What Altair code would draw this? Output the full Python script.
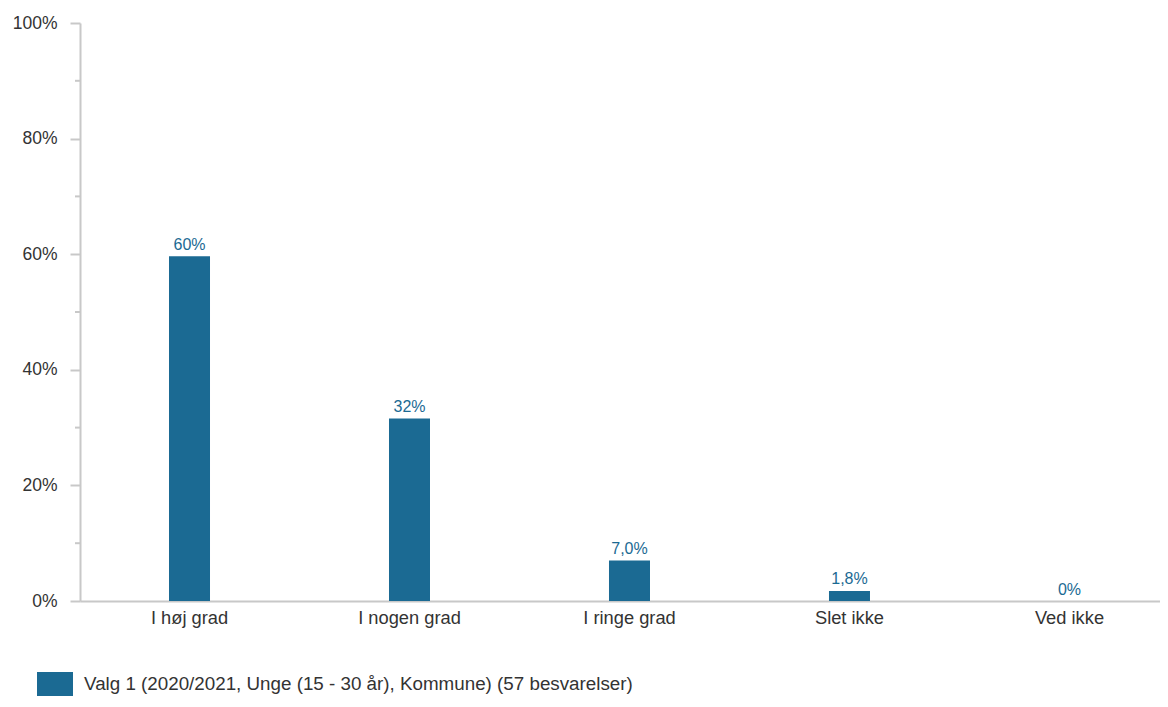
import altair as alt
import pandas as pd

categories = ["I høj grad", "I nogen grad", "I ringe grad", "Slet ikke", "Ved ikke"]
values = [59.65, 31.58, 7.02, 1.75, 0.0]
value_labels = ["60%", "32%", "7,0%", "1,8%", "0%"]
series_name = "Valg 1 (2020/2021, Unge (15 - 30 år), Kommune) (57 besvarelser)"
major_ticks = [0, 20, 40, 60, 80, 100]
minor_ticks = [10, 30, 50, 70, 90]

BAR = "#1b6a93"
AXIS = "#c8c8c8"
TXT = "#333333"
FONT = "Liberation Sans"

df = pd.DataFrame({"cat": categories, "val": values, "lab": value_labels,
                   "series": [series_name] * len(categories)})
minor_df = pd.DataFrame({"m": minor_ticks})

xscale = alt.Scale(domain=categories, paddingInner=0.8136, paddingOuter=0.3614, align=0.5597)
yscale = alt.Scale(domain=[0, 100], nice=False)

bars = alt.Chart(df).mark_bar(color=BAR).encode(
    x=alt.X("cat:N", scale=xscale, sort=categories,
            axis=alt.Axis(title=None, labelAngle=0, ticks=False, domainColor=AXIS, domainWidth=2,
                          labelFontSize=18.3, labelColor=TXT, labelFont=FONT, labelPadding=8)),
    y=alt.Y("val:Q", scale=yscale,
            axis=alt.Axis(title=None, values=major_ticks, grid=False, domainColor=AXIS, domainWidth=2,
                          tickColor=AXIS, tickWidth=2, tickSize=10, labelFontSize=17.5, labelColor=TXT,
                          labelFont=FONT, labelPadding=13, labelExpr="datum.value + '%'")),
    color=alt.Color("series:N", scale=alt.Scale(domain=[series_name], range=[BAR]),
                    legend=alt.Legend(title=None, orient="none", legendX=-37, legendY=649, padding=0,
                                      symbolType="M-1.5,-1H1.5V1H-1.5Z", symbolSize=576,
                                      symbolStrokeWidth=0, symbolOpacity=1, labelFontSize=18.8,
                                      labelColor=TXT, labelFont=FONT, labelOffset=17,
                                      labelLimit=900)),
)

texts = alt.Chart(df).mark_text(baseline="alphabetic", dy=-6.5, fontSize=16, color=BAR, font=FONT).encode(
    x=alt.X("cat:N", scale=xscale, sort=categories),
    y=alt.Y("val:Q", scale=yscale),
    text="lab:N",
)

minor = alt.Chart(minor_df).mark_rule(color=AXIS, strokeWidth=2).encode(
    y=alt.Y("m:Q", scale=yscale),
    x=alt.value(-5),
    x2=alt.value(0),
)

chart = alt.layer(bars, texts, minor).properties(
    width=1080, height=578,
    autosize=alt.AutoSizeParams(type="none"),
    padding={"left": 72, "top": 15, "right": 0, "bottom": 98},
).configure_view(stroke=None)

chart.save("out.html", embed_options={"renderer": "svg", "actions": False})
